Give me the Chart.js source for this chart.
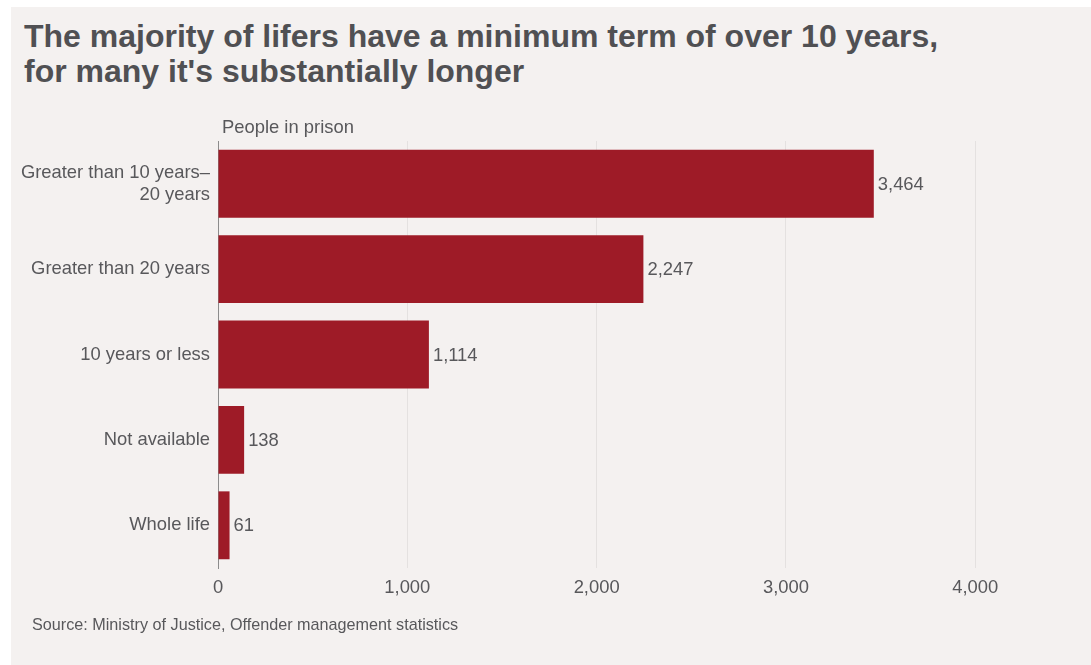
<!DOCTYPE html>
<html lang="en">
<head>
<meta charset="utf-8">
<title>Minimum term of life-sentenced prisoners</title>
<script src="https://cdn.jsdelivr.net/npm/chart.js@4.4.1/dist/chart.umd.min.js"></script>
<style>
    html, body { margin: 0; padding: 0; background: #ffffff; }
    body { width: 1091px; height: 665px; position: relative; overflow: hidden; font-family: "Liberation Sans", Arial, Helvetica, sans-serif; }
    .panel { position: absolute; left: 11px; top: 7px; right: 0; bottom: 0; background: #f4f1f0; }
    .headline { position: absolute; left: 24px; top: 19px; margin: 0; font-size: 32px; line-height: 35px; font-weight: bold; color: #505053; }
    .source { position: absolute; left: 32px; top: 614px; font-size: 16.2px; line-height: 20px; color: #58585b; }
    .chart-box { position: absolute; left: 11px; top: 100px; width: 1080px; height: 520px; }
</style>
</head>
<body>
<div class="panel"></div>
<h1 class="headline">The majority of lifers have a minimum term of over 10 years,<br>for many it's substantially longer</h1>
<div class="chart-box"><canvas id="termChart"></canvas></div>
<div class="source">Source: Ministry of Justice, Offender management statistics</div>

<script>
// Minimum term bands, largest group first
const categories = [
    ['Greater than 10 years\u2013', '20 years'],
    'Greater than 20 years',
    '10 years or less',
    'Not available',
    'Whole life'
];
const prisoners = [3464, 2247, 1114, 138, 61];
const xTicks = [0, 1000, 2000, 3000, 4000];
const axisTitle = 'People in prison';

const barColor = '#9e1b27';
const textColor = '#58585b';
const fontFamily = '"Liberation Sans", Arial, Helvetica, sans-serif';
const labelSize = 18.4;

// Value labels at the end of each bar
const barValueLabels = {
    id: 'barValueLabels',
    afterDatasetsDraw(chart) {
        const ctx = chart.ctx;
        const meta = chart.getDatasetMeta(0);
        ctx.save();
        ctx.font = `${labelSize}px ${fontFamily}`;
        ctx.fillStyle = textColor;
        ctx.textAlign = 'left';
        ctx.textBaseline = 'middle';
        meta.data.forEach((bar, i) => {
            ctx.fillText(prisoners[i].toLocaleString('en-GB'), bar.x + 4, bar.y + 1);
        });
        ctx.restore();
    }
};

// "People in prison" sits above the value axis origin
const axisCaption = {
    id: 'axisCaption',
    afterDraw(chart) {
        const ctx = chart.ctx;
        const area = chart.chartArea;
        ctx.save();
        ctx.font = `${labelSize}px ${fontFamily}`;
        ctx.fillStyle = textColor;
        ctx.textAlign = 'left';
        ctx.textBaseline = 'middle';
        ctx.fillText(axisTitle, area.left + 4, area.top - 13);
        ctx.restore();
    }
};

new Chart(document.getElementById('termChart'), {
    type: 'bar',
    data: {
        labels: categories,
        datasets: [{
            data: prisoners,
            backgroundColor: barColor,
            borderWidth: 0,
            categoryPercentage: 1,
            barPercentage: 0.795
        }]
    },
    options: {
        indexAxis: 'y',
        animation: false,
        responsive: true,
        maintainAspectRatio: false,
        layout: { padding: { top: 41, right: 40, bottom: 12, left: 0 } },
        plugins: {
            legend: { display: false },
            tooltip: { enabled: false }
        },
        scales: {
            x: {
                min: 0,
                max: 4400,
                afterBuildTicks: scale => {
                    scale.ticks = xTicks.map(v => ({ value: v }));
                },
                afterFit: scale => { scale.height = 40; },
                border: { display: false },
                grid: {
                    drawTicks: false,
                    color: c => (c.tick && c.tick.value === 0) ? 'rgba(0,0,0,0)' : '#e4e1e0',
                    lineWidth: 1
                },
                ticks: {
                    padding: 9,
                    color: textColor,
                    font: { family: fontFamily, size: labelSize },
                    callback: value => value.toLocaleString('en-GB')
                }
            },
            y: {
                afterFit: scale => { scale.width = 207; },
                border: { display: true, color: '#8c8c8c', width: 1 },
                grid: { display: false, drawTicks: false },
                ticks: {
                    padding: 8,
                    color: textColor,
                    font: { family: fontFamily, size: labelSize, lineHeight: 1.2 }
                }
            }
        }
    },
    plugins: [barValueLabels, axisCaption]
});
</script>
</body>
</html>
